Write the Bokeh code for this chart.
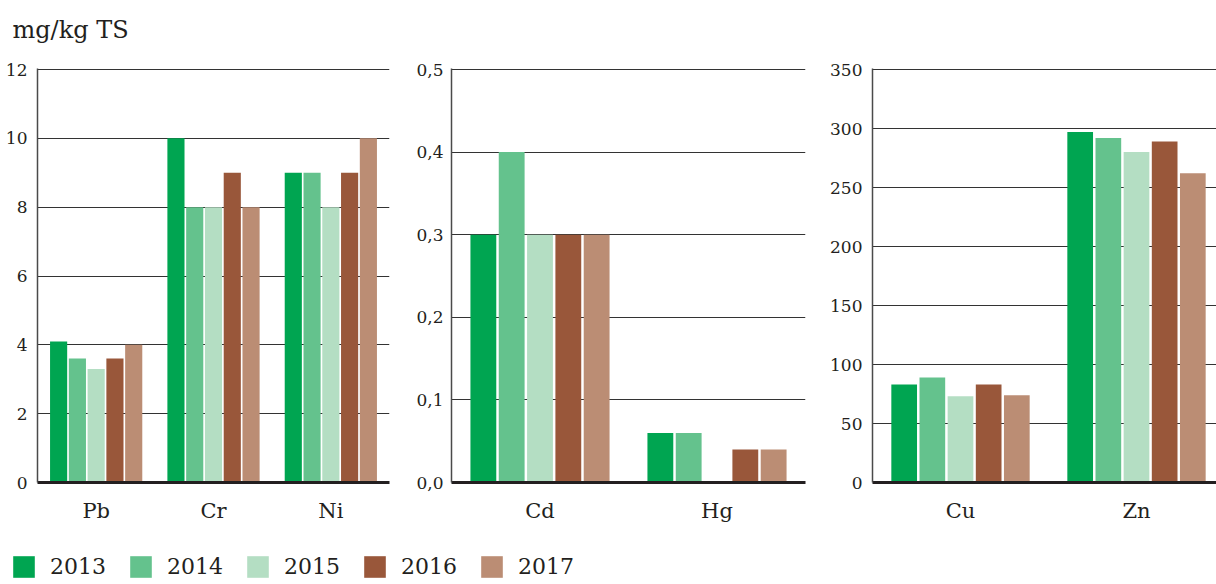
from bokeh.plotting import figure
from bokeh.layouts import row, column
from bokeh.models import Range1d, FixedTicker, Legend, LegendItem, ColumnDataSource
from bokeh.transform import dodge
from bokeh.core.properties import value
from bokeh.embed import file_html
from bokeh.resources import INLINE

# ---------------- data ----------------
unit_label = "mg/kg TS"
years = ["2013", "2014", "2015", "2016", "2017"]
colors = ["#00a551", "#64c28d", "#b4dec3", "#99573a", "#bb8d74"]

metals_a = ["Pb", "Cr", "Ni"]
a_2013 = [4.1, 10, 9]
a_2014 = [3.6, 8, 9]
a_2015 = [3.3, 8, 8]
a_2016 = [3.6, 9, 9]
a_2017 = [4.0, 8, 10]
ticks_a = [0, 2, 4, 6, 8, 10, 12]
labels_a = ["0", "2", "4", "6", "8", "10", "12"]

metals_b = ["Cd", "Hg"]
b_2013 = [0.3, 0.06]
b_2014 = [0.4, 0.06]
b_2015 = [0.3, float("nan")]
b_2016 = [0.3, 0.04]
b_2017 = [0.3, 0.04]
ticks_b = [0, 0.1, 0.2, 0.3, 0.4, 0.5]
labels_b = ["0,0", "0,1", "0,2", "0,3", "0,4", "0,5"]

metals_c = ["Cu", "Zn"]
c_2013 = [83, 297]
c_2014 = [89, 292]
c_2015 = [73, 280]
c_2016 = [83, 289]
c_2017 = [74, 262]
ticks_c = [0, 50, 100, 150, 200, 250, 300, 350]
labels_c = ["0", "50", "100", "150", "200", "250", "300", "350"]

# ---------------- style ----------------
FONT = "DejaVu Serif"
TXT = "#231f20"
FIG_H = 490
TOP = 18
FRAME_H = 414
BOTTOM = FIG_H - TOP - FRAME_H
offsets = [-0.32, -0.16, 0.0, 0.16, 0.32]
BAR_W = 0.146


def make_panel(cats, series, ticks, tick_labels, frame_w, bl, br, x_end, standoff):
    xs = [i + 0.5 for i in range(len(cats))]
    data = {"x": xs}
    for yr, vals in zip(years, series):
        data["y" + yr] = vals
    src = ColumnDataSource(data)
    y_end = ticks[-1] * FRAME_H / (FRAME_H - 1)
    p = figure(width=bl + frame_w + br, height=FIG_H,
               x_range=Range1d(0, x_end), y_range=Range1d(0, y_end),
               output_backend="svg", toolbar_location=None,
               min_border_left=bl, min_border_right=br,
               min_border_top=TOP, min_border_bottom=BOTTOM)
    for k, (yr, c) in enumerate(zip(years, colors)):
        p.vbar(x=dodge("x", offsets[k]), top="y" + yr, width=BAR_W,
               source=src, fill_color=c, line_color=None)
    p.outline_line_color = None
    p.xgrid.grid_line_color = None
    p.ygrid.ticker = FixedTicker(ticks=ticks)
    p.ygrid.grid_line_color = "#333333"
    p.ygrid.grid_line_width = 1

    p.xaxis.ticker = FixedTicker(ticks=xs)
    p.xaxis.major_label_overrides = {x: c for x, c in zip(xs, cats)}
    p.xaxis.axis_line_width = 3
    p.xaxis.axis_line_color = TXT
    p.xaxis.major_tick_line_color = None
    p.xaxis.minor_tick_line_color = None
    p.xaxis.major_label_text_font = FONT
    p.xaxis.major_label_text_font_size = "21px"
    p.xaxis.major_label_text_color = TXT
    p.xaxis.major_label_standoff = 10

    p.yaxis.ticker = FixedTicker(ticks=ticks)
    p.yaxis.major_label_overrides = {t: l for t, l in zip(ticks, tick_labels)}
    p.yaxis.axis_line_width = 1.5
    p.yaxis.axis_line_color = "#4a4a4a"
    p.yaxis.major_tick_line_color = None
    p.yaxis.minor_tick_line_color = None
    p.yaxis.major_label_text_font = FONT
    p.yaxis.major_label_text_font_size = "17px"
    p.yaxis.major_label_text_color = TXT
    p.yaxis.major_label_standoff = standoff
    return p


p1 = make_panel(metals_a, [a_2013, a_2014, a_2015, a_2016, a_2017],
                ticks_a, labels_a, 352, 37, 21, 3, 4)
p2 = make_panel(metals_b, [b_2013, b_2014, b_2015, b_2016, b_2017],
                ticks_b, labels_b, 354, 41, 18, 2, 2)
p3 = make_panel(metals_c, [c_2013, c_2014, c_2015, c_2016, c_2017],
                ticks_c, labels_c, 344, 49, 0, 344 / 176, 4)

# header with unit label
hdr = figure(width=1216, height=50, x_range=Range1d(0, 1216), y_range=Range1d(0, 50),
             output_backend="svg", toolbar_location=None, min_border=0,
             x_axis_location=None, y_axis_location=None)
hdr.grid.grid_line_color = None
hdr.outline_line_color = None
hdr.text(x=[12], y=[21], text=[unit_label], text_font=value(FONT),
         text_font_size="24px", text_color=TXT, text_baseline="alphabetic")

# legend strip
lf = figure(width=1216, height=44, x_range=Range1d(0, 1216), y_range=Range1d(0, 44),
            output_backend="svg", toolbar_location=None, min_border=0,
            x_axis_location=None, y_axis_location=None)
lf.grid.grid_line_color = None
lf.outline_line_color = None
items = []
for yr, c in zip(years, colors):
    r = lf.vbar(x=[-50], top=[0], width=1, fill_color=c, line_color=None)
    items.append(LegendItem(label=yr, renderers=[r]))
leg = Legend(items=items, orientation="horizontal", location=(10, 4),
             glyph_width=27, glyph_height=27, label_standoff=13, label_width=64,
             spacing=13, padding=0, margin=0, border_line_color=None,
             background_fill_alpha=0, label_text_font=FONT,
             label_text_font_size="22px", label_text_color=TXT)
lf.add_layout(leg, "center")

layout = column(hdr, row(p1, p2, p3), lf)
open("out.html", "w").write(file_html(layout, INLINE))
